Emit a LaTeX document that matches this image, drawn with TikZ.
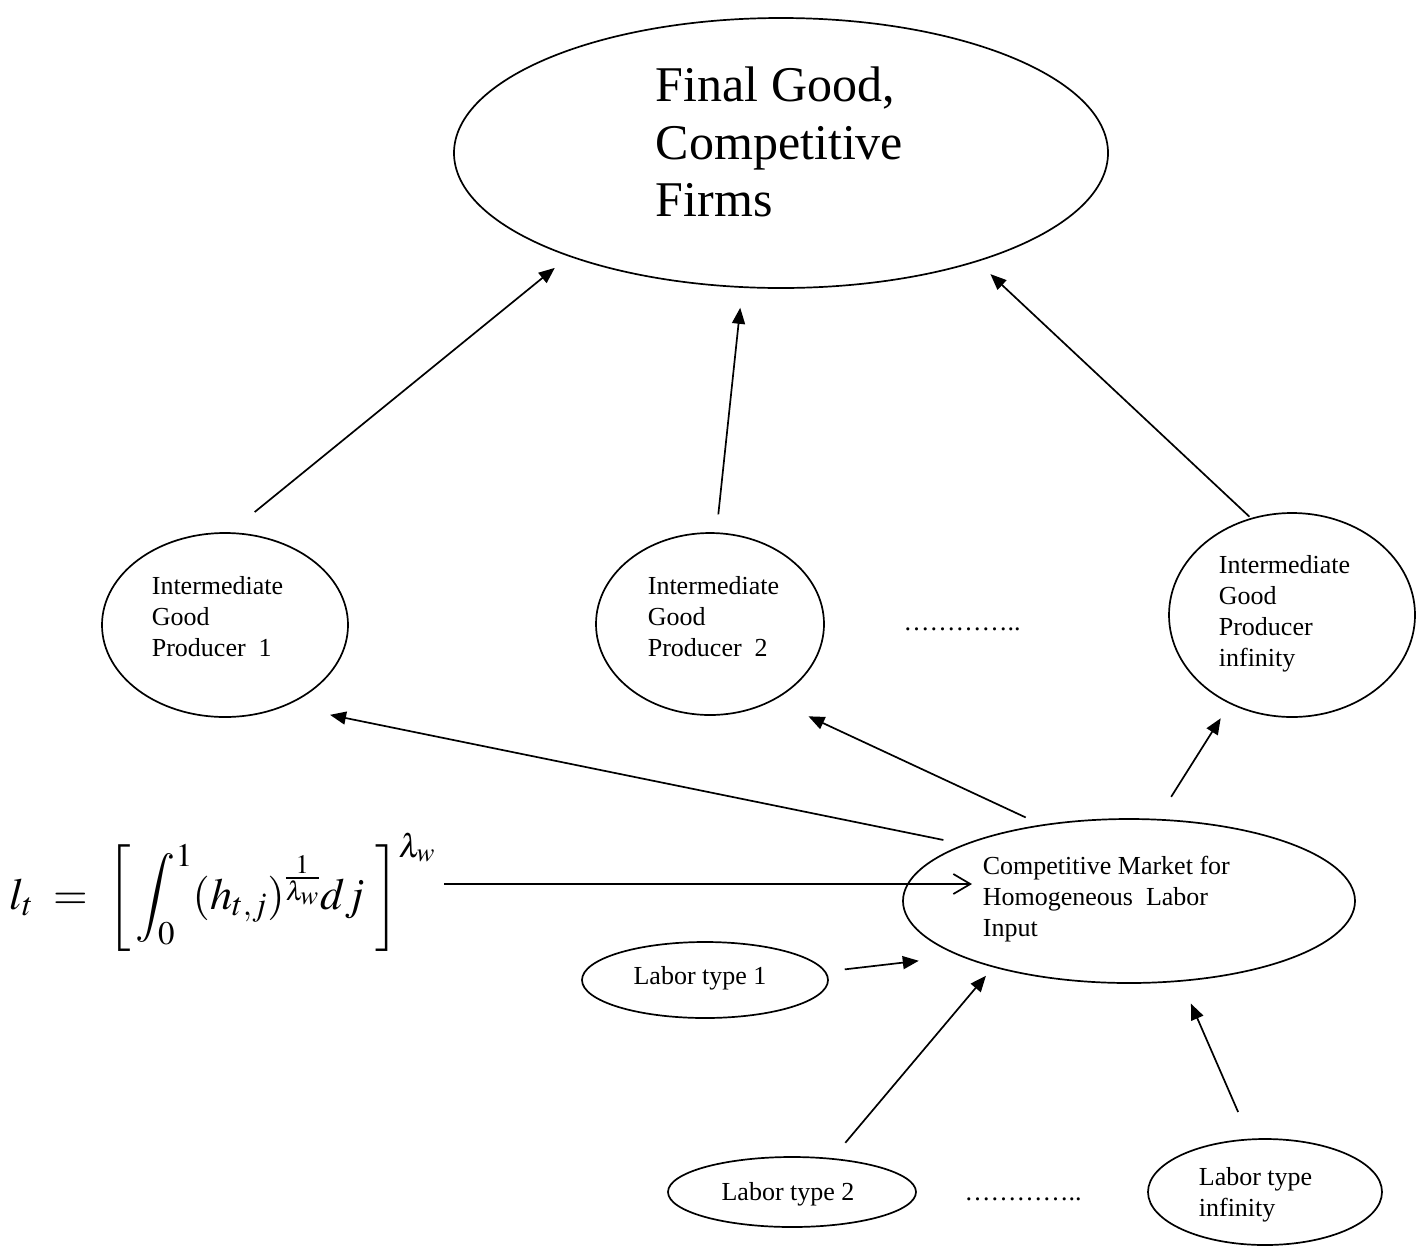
\documentclass[tikz,border=0pt]{standalone}
\usepackage{mathptmx}
\usepackage{fontspec}
\setmainfont{Liberation Serif}
\usepackage{amsmath}
\usetikzlibrary{arrows.meta,shapes.geometric}

\begin{document}
\begin{tikzpicture}[x=1pt,y=-1pt,->,>={Triangle[length=16pt,width=13pt]},line width=1.7pt,
    oval/.style={ellipse,draw,inner sep=0pt},
    big text/.style={align=left,inner sep=0pt,font=\fontsize{50}{57.5}\selectfont},
    small text/.style={align=left,inner sep=0pt,font=\fontsize{26}{31}\selectfont},
    open arrow/.style={-{Straight Barb[length=17pt,width=20pt]}}]

  \useasboundingbox (0,0) rectangle (1416,1259);

  % final good
  \node[oval,minimum width=654pt,minimum height=270pt] (final) at (781,153) {};
  \node[big text,anchor=west] (finaltxt) at (655,142) {Final Good,\\Competitive\\Firms};

  % intermediate producers
  \node[oval,minimum width=246pt,minimum height=184pt] (igp1) at (225,625) {};
  \node[small text,anchor=west] (igp1txt) at (151,617) {Intermediate\\Good\\Producer~~1};
  \node[oval,minimum width=228pt,minimum height=182pt] (igp2) at (710,624) {};
  \node[small text,anchor=west] (igp2txt) at (647,617) {Intermediate\\Good\\Producer~~2};
  \node[small text] (dotsigp) at (962,629) {…………..};
  \node[oval,minimum width=246pt,minimum height=204pt] (igpinf) at (1292,615) {};
  \node[small text,anchor=west] (igpinftxt) at (1218,614) {Intermediate\\Good\\Producer\\infinity};

  % labor market
  \node[oval,minimum width=452pt,minimum height=164pt] (cm) at (1129,901) {};
  \node[small text,anchor=west] (cmtxt) at (982,899) {Competitive Market for\\Homogeneous~~Labor\\Input};
  \node[inner sep=0pt,anchor=west,font=\fontsize{44.5}{53}\selectfont] (formula) at (9,892)
    {$\displaystyle l_{t} \;=\; \left[\,\int_0^1 (h_{t,j})^{\frac{1}{\lambda_w}} dj\;\right]^{\lambda_w}$};
  \coordinate (lin) at (972,884);

  % labor types
  \node[oval,minimum width=246pt,minimum height=76pt] (l1) at (705,980) {};
  \node[small text] (l1txt) at (700,978) {Labor type 1};
  \node[oval,minimum width=248pt,minimum height=70pt] (l2) at (792,1192) {};
  \node[small text] (l2txt) at (788,1194) {Labor type 2};
  \node[small text] (dotslab) at (1023,1199) {…………..};
  \node[oval,minimum width=234pt,minimum height=106pt] (linf) at (1265,1192) {};
  \node[small text,anchor=west] (linftxt) at (1198,1195) {Labor type\\infinity};

  \draw[shorten <=32pt,shorten >=18pt] (igp1.87) -- (final.206);
  \draw[shorten <=18pt,shorten >=20pt] (igp2.86) -- (final.254);
  \draw[shorten <=2pt,shorten >=18pt] (igpinf.113) -- (final.331);
  \draw[shorten <=21pt,shorten >=45pt] (cm.161) -- (igp1.307);
  \draw[shorten <=17pt,shorten >=38pt] (cm.139) -- (igp2.310);
  \draw[shorten <=26pt,shorten >=17pt] (cm.71) -- (igpinf.235);
  \draw[open arrow,shorten <=8pt] (lin -| formula.east) -- (lin);
  \draw[shorten <=19pt,shorten >=41pt] (l1.4) -- (cm.198);
  \draw[shorten <=20pt,shorten >=11pt] (l2.40) -- (cm.206);
  \draw[shorten <=29pt,shorten >=24pt] (linf.106) -- (cm.303);

\end{tikzpicture}
\end{document}
